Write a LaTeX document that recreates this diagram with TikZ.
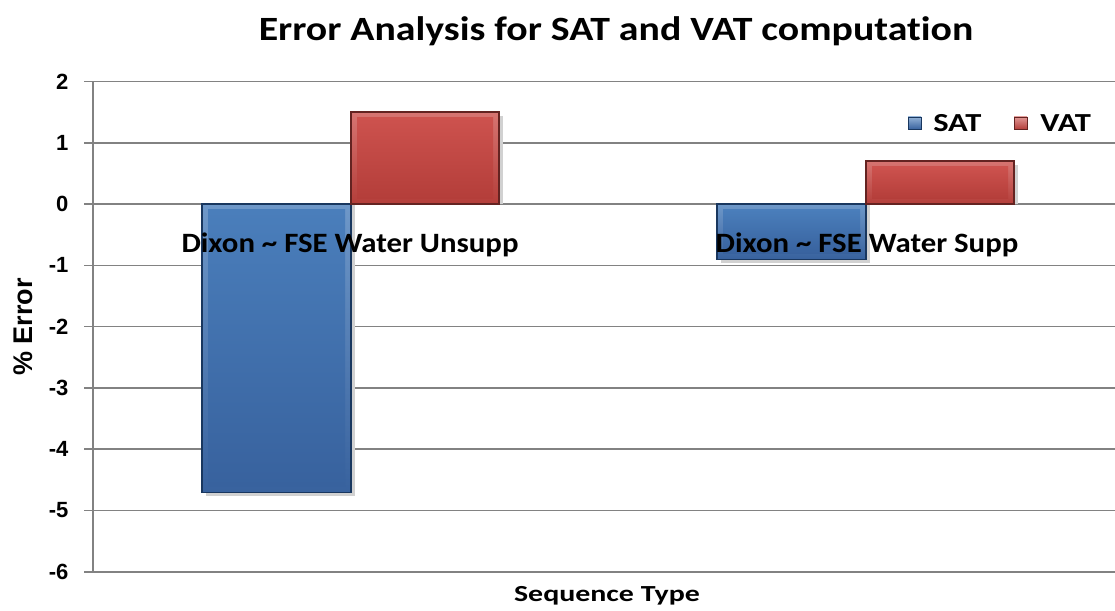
\documentclass[tikz,border=0pt]{standalone}
\usepackage{fontspec}
\setmainfont{Carlito}[Ligatures=NoCommon]
\newfontfamily\arialfont{Liberation Sans}
\usetikzlibrary{positioning}
\definecolor{satblau}{RGB}{74,126,187}
\definecolor{satdunkel}{RGB}{56,98,158}
\definecolor{satrand}{RGB}{25,55,95}
\definecolor{vatrot}{RGB}{205,82,78}
\definecolor{vatdunkel}{RGB}{180,62,58}
\definecolor{vatrand}{RGB}{100,35,33}
\definecolor{gitter}{RGB}{130,130,130}
\newcommand{\balken}[5]{% x links, x rechts, wert, hell, dunkel
  \fill[black!18] (#1+4,0) rectangle (#2+4,#3-0.06);
  \draw[line width=1.2pt, draw=#5!60!black, top color=#4!80!white, bottom color=#5] (#1,0) rectangle (#2,#3);
  \fill[top color=#4, bottom color=#5] (#1+6,{0+sign(#3)*0.09}) rectangle (#2-6,{#3-sign(#3)*0.09});
}
\tikzset{
  gitterlinie/.style={draw=gitter, line width=1.6pt},
  tick/.style={font=\arialfont\bfseries\fontsize{22}{26}\selectfont, anchor=east},
  kategorie/.style={font=\bfseries\fontsize{28}{32}\selectfont, inner sep=0pt, xscale=1.1, transform shape},
  legende/.style={font=\bfseries\fontsize{26}{30}\selectfont, anchor=west, inner sep=0pt, xscale=1.25, transform shape},
}

\begin{document}
\begin{tikzpicture}[x=1pt, y=1pt]
    \useasboundingbox (0,-610) rectangle (1115,0);
    \node[font=\bfseries\fontsize{34}{40}\selectfont, xscale=1.17, transform shape] (titel) at (616,-31) {Error Analysis for SAT and VAT computation};
    \node[font=\arialfont\bfseries\fontsize{27}{32}\selectfont, rotate=90] (ylabel) at (23,-327) {\% Error};
    \node[font=\bfseries\fontsize{23}{28}\selectfont, xscale=1.3, transform shape] (xlabel) at (607,-596) {Sequence Type};
    \begin{scope}[yshift=-204pt, y=61.3pt]
      % gitter und achse
      \foreach \v in {-6,...,2} {
        \draw[gitterlinie] (84,\v) -- (1115,\v);
        \node[tick] (t\v) at (72,\v) {\v};
      }
      \draw[gitterlinie] (93,-6) -- (93,2);
      % balken
      \balken{202}{351}{-4.7}{satblau}{satdunkel}
      \balken{351}{499}{1.5}{vatrot}{vatdunkel}
      \balken{717}{866}{-0.9}{satblau}{satdunkel}
      \balken{866}{1014}{0.7}{vatrot}{vatdunkel}
      \draw[line width=1.2pt, satrand] (202,0) rectangle (351,-4.7);
      \draw[line width=1.2pt, vatrand] (351,0) rectangle (499,1.5);
      \draw[line width=1.2pt, satrand] (717,0) rectangle (866,-0.9);
      \draw[line width=1.2pt, vatrand] (866,0) rectangle (1014,0.7);
      % kategorien
      \node[kategorie] (unsupp) at (350,-0.67) {Dixon \textasciitilde{} FSE Water Unsupp};
      \node[kategorie] (supp) at (867,-0.67) {Dixon \textasciitilde{} FSE Water Supp};
      % legende
      \draw[satrand, top color=satblau!60!white, bottom color=satdunkel] (908,1.42) rectangle (921,1.22);
      \node[legende] (lsat) at (933,1.32) {SAT};
      \draw[vatrand, top color=vatrot!60!white, bottom color=vatdunkel] (1014,1.42) rectangle (1027,1.22);
      \node[legende] (lvat) at (1040,1.32) {VAT};
    \end{scope}
  \end{tikzpicture}
\end{document}
